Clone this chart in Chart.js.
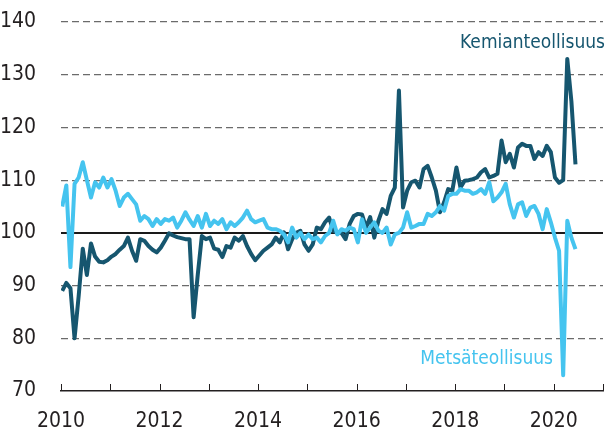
<!DOCTYPE html>
<html lang="fi">
<head>
<meta charset="UTF-8">
<title>Kemian- ja metsäteollisuus</title>
<script src="https://cdn.jsdelivr.net/npm/chart.js@4.4.0"></script>
<style>
  html, body { margin: 0; padding: 0; background: #fff; }
  canvas { display: block; }
</style>
</head>
<body>
<canvas id="chart" width="607" height="440"></canvas>
<script>
// monthly index, Jan 2010 - Jun 2020
const startYear = 2010;

const kemia = [
  89, 90.5, 89.5, 80, 88, 97, 92, 98, 95.5, 94.5, 94.4, 94.8,
  95.5, 96, 96.8, 97.5, 99.1, 96.6, 94.7, 98.8, 98.5, 97.5, 96.8, 96.3,
  97.2, 98.5, 99.9, 99.5, 99.2, 99, 98.8, 98.8, 84, 92, 99.4, 98.8,
  99.1, 97, 96.8, 95.4, 97.5, 97.2, 99.1, 98.5, 99.4, 97.5, 96, 94.8,
  95.7, 96.6, 97.2, 97.8, 99.1, 98.2, 100.1, 96.9, 98.8, 100, 100.4, 97.8,
  96.6, 97.8, 101, 100.7, 102, 102.9, 100.4, 100, 100, 98.8, 101.7, 103.2,
  103.6, 103.5, 101, 103, 99.1, 102.3, 104.5, 103.6, 107, 108.6, 127, 104.8,
  108, 109.6, 109.9, 108.6, 112.1, 112.7, 110.5, 108, 103.9, 105.8, 108.3, 108,
  112.4, 108.6, 109.9, 110, 110.2, 110.5, 111.5, 112.1, 110.5, 110.8, 111.2, 117.5,
  113.4, 115, 112.4, 116.2, 116.9, 116.5, 116.5, 114, 115.3, 114.6, 116.5, 115.3,
  110.5, 109.5, 110, 133, 125, 113
];

const metsa = [
  105, 109, 93.5, 109.3, 110.5, 113.4, 110, 106.7, 109.6, 108.6, 110.5, 108.6,
  110.2, 108, 105.1, 106.7, 107.4, 106.4, 105.4, 102.3, 103.2, 102.6, 101.3, 102.6,
  101.7, 102.6, 102.3, 102.9, 101, 102.3, 103.9, 102.5, 101.3, 103.2, 101, 103.6,
  101.3, 102.3, 101.7, 102.6, 100.7, 102, 101.3, 102, 102.9, 104.2, 102.6, 102,
  102.3, 102.6, 101, 100.7, 100.7, 100.4, 99.7, 98.2, 101, 99.1, 100, 98.8,
  99.7, 98.8, 99.1, 98.2, 99.4, 100, 102.3, 99.7, 100.7, 100.4, 101, 100.7,
  98.2, 102.6, 100, 101, 102, 100.4, 100, 101, 97.8, 99.7, 100, 101,
  103.9, 101, 101.3, 101.7, 101.7, 103.6, 103.2, 103.9, 105.1, 104.2, 107, 107.4,
  107.4, 108.3, 108, 108, 107.4, 107.7, 108.3, 107.4, 109.6, 106, 106.7, 107.7,
  109.3, 105.4, 102.9, 105.4, 105.8, 103.2, 104.8, 105.1, 103.6, 100.7, 104.5, 102,
  99.1, 96.6, 73, 102.3, 99.1, 96.9
];

const seriesNames = ['Kemianteollisuus', 'Metsäteollisuus'];
const yMin = 70, yMax = 140, yStep = 10;
const xMin = 2010, xMax = 2021;

const darkBlue = '#16566f';
const lightBlue = '#45c4ef';
const inkColor = '#231f20';
const fontFamily = "'DejaVu Sans Condensed', 'Liberation Sans Narrow', sans-serif";

const toPoints = arr => arr.map((v, i) => ({ x: startYear + (i + 0.3) / 12, y: v }));

// year tick marks (pointing up) and the series names
const extras = {
  id: 'extras',
  afterDraw(chart) {
    const { ctx, scales: { x, y } } = chart;
    ctx.save();
    ctx.strokeStyle = inkColor;
    ctx.lineWidth = 1;
    for (let yr = xMin; yr <= xMax; yr++) {
      const px = Math.round(x.getPixelForValue(yr)) + 0.5;
      ctx.beginPath();
      ctx.moveTo(px, y.bottom);
      ctx.lineTo(px, y.bottom - 7);
      ctx.stroke();
    }
    ctx.font = '19px ' + fontFamily;
    ctx.textAlign = 'right';
    ctx.textBaseline = 'alphabetic';
    ctx.fillStyle = darkBlue;
    ctx.fillText(seriesNames[0], 605, 48);
    ctx.fillStyle = lightBlue;
    ctx.fillText(seriesNames[1], 553, 364);
    ctx.restore();
  }
};

new Chart(document.getElementById('chart'), {
  type: 'line',
  data: {
    datasets: [
      {
        label: seriesNames[1],
        data: toPoints(metsa),
        borderColor: lightBlue,
        borderWidth: 4,
        pointRadius: 0,
        tension: 0,
        borderJoinStyle: 'round'
      },
      {
        label: seriesNames[0],
        data: toPoints(kemia),
        borderColor: darkBlue,
        borderWidth: 4,
        pointRadius: 0,
        tension: 0,
        borderJoinStyle: 'round'
      }
    ]
  },
  options: {
    responsive: false,
    animation: false,
    layout: { padding: { top: 22, right: 4, left: 0, bottom: 0 } },
    plugins: { legend: { display: false }, tooltip: { enabled: false } },
    scales: {
      x: {
        type: 'linear',
        min: xMin,
        max: xMax,
        afterFit: s => { s.height = 49; s.paddingLeft = 0; s.paddingRight = 0; },
        ticks: {
          stepSize: 1,
          autoSkip: false,
          maxRotation: 0,
          padding: 18,
          color: inkColor,
          font: { family: fontFamily, size: 21 },
          callback: v => (v % 2 === 0 ? String(v) : '')
        },
        grid: { display: true, drawOnChartArea: false, drawTicks: false },
        border: { display: true, color: inkColor, width: 1.5 }
      },
      y: {
        min: yMin,
        max: yMax,
        afterFit: s => { s.width = 61; s.paddingTop = 0; s.paddingBottom = 0; },
        ticks: {
          stepSize: yStep,
          padding: 25,
          color: inkColor,
          font: { family: fontFamily, size: 21 }
        },
        grid: {
          drawTicks: false,
          color: c => c.tick && c.tick.value === 100 ? '#1a1a1a'
                    : c.tick && c.tick.value === yMin ? 'rgba(0,0,0,0)' : '#6b6b6b',
          lineWidth: c => c.tick && c.tick.value === 100 ? 2 : 1.2
        },
        border: {
          display: false,
          dash: c => c.tick && c.tick.value === 100 ? [] : [7, 4]
        }
      }
    }
  },
  plugins: [extras]
});
</script>
</body>
</html>
